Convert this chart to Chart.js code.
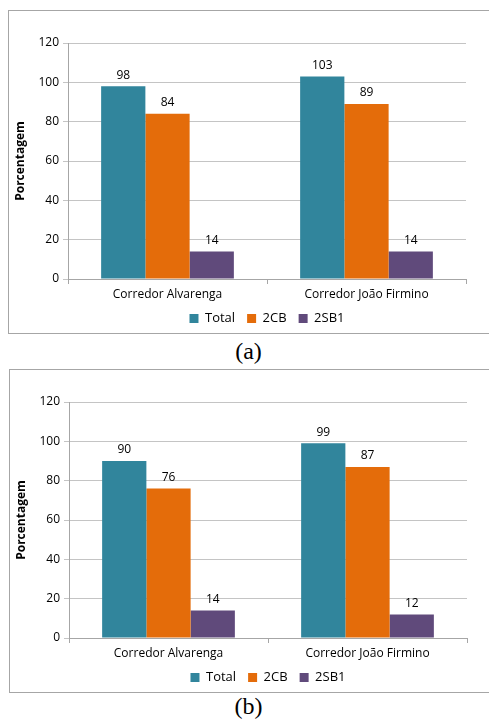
<!DOCTYPE html>
<html lang="pt-BR">
<head>
<meta charset="UTF-8">
<script src="https://cdn.jsdelivr.net/npm/chart.js"></script>
<title>Porcentagem por corredor</title>
<style>
  body { margin: 0; background: #fff; width: 489px; height: 723px; overflow: hidden; position: relative; }
  .caixa { position: absolute; border: 1px solid #a6a6a6; box-sizing: border-box; }
  .caixa canvas { display: block; }
  .legenda { position: absolute; width: 489px; text-align: center; font-family: "Liberation Serif", serif; font-size: 24px; color: #000; }
</style>
</head>
<body>

<div class="caixa" id="boxA" style="left:8px; top:10px; width:490px; height:324px;">
  <canvas id="graficoA" width="488" height="322"></canvas>
</div>
<div class="legenda" style="top:338px; left:4px;">(a)</div>

<div class="caixa" id="boxB" style="left:9px; top:369px; width:490px; height:324px;">
  <canvas id="graficoB" width="488" height="322"></canvas>
</div>
<div class="legenda" style="top:693px; left:4px;">(b)</div>

<script>
const categorias = ['Corredor Alvarenga', 'Corredor João Firmino'];
const series = ['Total', '2CB', '2SB1'];
const cores = ['#31859c', '#e46c0a', '#604a7b'];

// (a)
const totalA = [98, 103];
const cb2A = [84, 89];
const sb1A = [14, 14];

// (b)
const totalB = [90, 99];
const cb2B = [76, 87];
const sb1B = [14, 12];

const yTicks = [0, 20, 40, 60, 80, 100, 120];

const fonte = '"Open Sans", "Lato", sans-serif';

// rotulos de valor em cima das barras
const rotulos = {
    id: 'rotulos',
    afterDatasetsDraw(chart) {
        const ctx = chart.ctx;
        ctx.save();
        ctx.font = '12px ' + fonte;
        ctx.fillStyle = '#000';
        ctx.textAlign = 'center';
        ctx.textBaseline = 'bottom';
        chart.data.datasets.forEach(function (ds, i) {
            chart.getDatasetMeta(i).data.forEach(function (barra, j) {
                ctx.fillText(ds.data[j], barra.x, barra.y - 5);
            });
        });
        ctx.restore();
    }
};

function montarGrafico(id, valores) {
    const data = {
        labels: categorias,
        datasets: series.map(function (nome, i) {
            return {
                label: nome,
                data: valores[i],
                backgroundColor: cores[i],
                borderWidth: 0,
                categoryPercentage: 0.667,
                barPercentage: 1.0
            };
        })
    };

    return new Chart(document.getElementById(id), {
        type: 'bar',
        data: data,
        plugins: [rotulos],
        options: {
            responsive: false,
            animation: false,
            layout: { padding: { left: 4, top: 32, right: 31, bottom: -2 } },
            plugins: {
                tooltip: { enabled: false },
                legend: {
                    position: 'bottom',
                    fullSize: false,
                    labels: {
                        boxWidth: 9, boxHeight: 9, padding: 12,
                        color: '#000',
                        font: { family: fonte, size: 13 }
                    }
                }
            },
            scales: {
                x: {
                    afterFit: function (scale) {
                        scale.height = 21;
                        // nao cortar os rotulos das categorias
                        scale._computeLabelArea = function () { return null; };
                    },
                    grid: { drawOnChartArea: false, offset: true, tickLength: 5, color: '#a6a6a6' },
                    border: { color: '#a6a6a6' },
                    ticks: { color: '#000', font: { family: fonte, size: 12 }, padding: 3 }
                },
                y: {
                    min: 0, max: 120,
                    afterBuildTicks: function (scale) {
                        scale.ticks = yTicks.map(function (v) { return { value: v }; });
                    },
                    afterFit: function (scale) { scale.width = 55; },
                    grid: { color: '#c4c4c4', tickLength: 5 },
                    border: { color: '#a6a6a6' },
                    ticks: { color: '#000', font: { family: fonte, size: 12 }, padding: 4 },
                    title: {
                        display: true,
                        text: 'Porcentagem',
                        color: '#000',
                        font: { family: fonte, size: 12, weight: 'bold' },
                        padding: 0
                    }
                }
            }
        }
    });
}

montarGrafico('graficoA', [totalA, cb2A, sb1A]);
montarGrafico('graficoB', [totalB, cb2B, sb1B]);
</script>
</body>
</html>
